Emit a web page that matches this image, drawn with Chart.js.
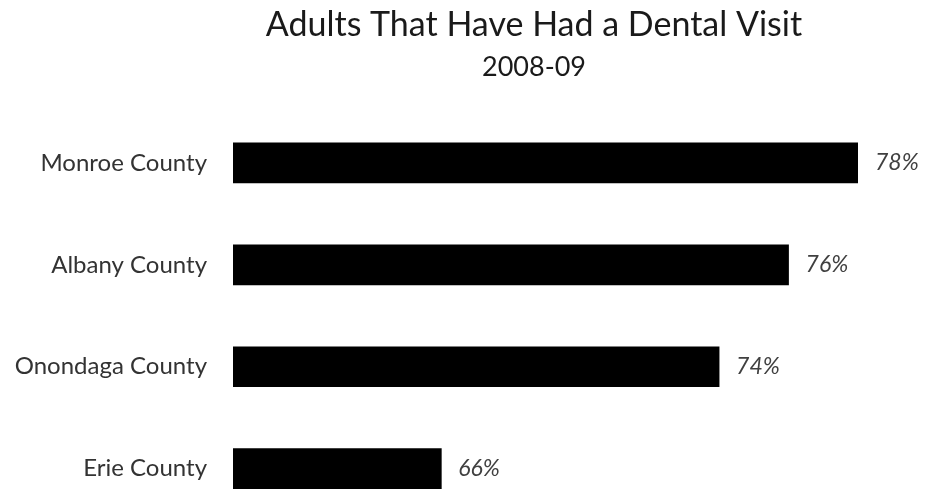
<!DOCTYPE html>
<html lang="en">
<head>
<meta charset="UTF-8">
<title>Adults That Have Had a Dental Visit</title>
<script src="https://cdn.jsdelivr.net/npm/chart.js"></script>
<style>
    html, body { margin: 0; padding: 0; background: #fff; overflow: hidden; }
    canvas { display: block; }
</style>
</head>
<body>
<canvas id="chart" width="925" height="560"></canvas>
<script>
    const counties = ['Monroe County', 'Albany County', 'Onondaga County', 'Erie County'];
    const visitPct = [78, 76, 74, 66];
    const titleText = 'Adults That Have Had a Dental Visit';
    const subtitleText = '2008-09';

    const FONT = "Lato, 'Open Sans', sans-serif";

    // titles + value labels drawn by hand so positions match
    const textPlugin = {
        id: 'texts',
        afterDatasetsDraw(chart) {
            const ctx = chart.ctx;
            ctx.save();
            ctx.fillStyle = '#1a1a1a';
            ctx.textAlign = 'center';
            ctx.textBaseline = 'alphabetic';
            ctx.font = '34px ' + FONT;
            ctx.fillText(titleText, 534, 36);
            ctx.font = '27px ' + FONT;
            ctx.fillText(subtitleText, 534, 76);

            ctx.fillStyle = '#404040';
            ctx.textAlign = 'left';
            ctx.textBaseline = 'middle';
            ctx.font = 'italic 23px ' + FONT;
            chart.getDatasetMeta(0).data.forEach((bar, i) => {
                ctx.fillText(visitPct[i] + '%', bar.x + 17, bar.y);
            });
            ctx.restore();
        }
    };

    new Chart(document.getElementById('chart'), {
        type: 'bar',
        data: {
            labels: counties,
            datasets: [{ data: visitPct, backgroundColor: '#000', borderWidth: 0, barThickness: 40 }]
        },
        options: {
            indexAxis: 'y',
            responsive: false,
            animation: false,
            layout: { padding: { top: 112, right: 67, bottom: 0, left: 0 } },
            plugins: { legend: { display: false }, tooltip: { enabled: false } },
            scales: {
                x: { display: false, min: 60, max: 78 },
                y: {
                    grid: { display: false, drawTicks: false },
                    border: { display: false },
                    afterFit: s => { s.width = 233; },
                    ticks: { color: '#333', padding: 26, font: { family: FONT, size: 24 } }
                }
            }
        },
        plugins: [textPlugin]
    });
</script>
</body>
</html>
